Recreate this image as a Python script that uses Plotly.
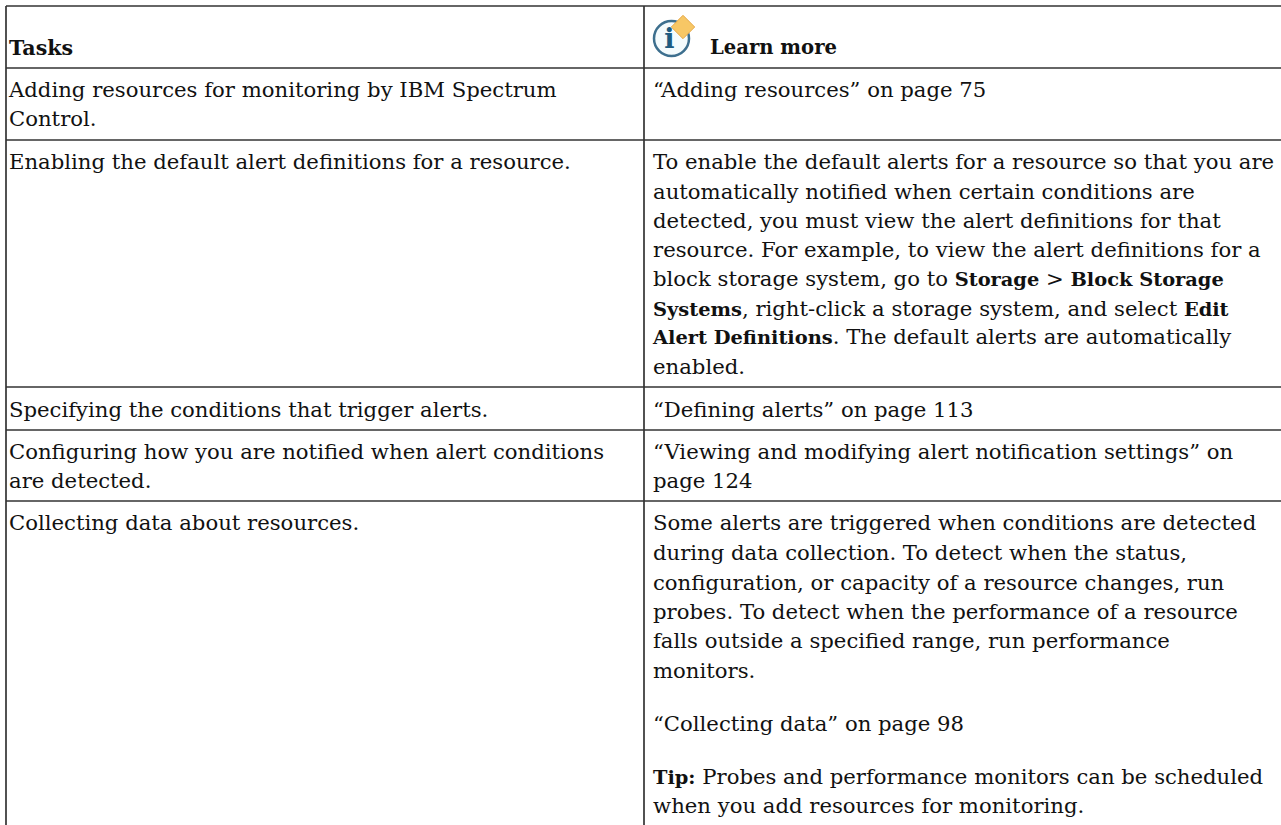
import plotly.graph_objects as go

LEFT_X = 9
RIGHT_X = 653
LEARN_X = 710
FONT_SIZE = 21.2
LEARN_SIZE = 19.6
BOLD_SIZE = 19.4
FONT = "DejaVu Serif"


def bold(s):
    return f'<span style="font-size:{BOLD_SIZE}px;font-weight:bold">{s}</span>'


v_lines_x = [6, 644]
h_lines_y = [6, 68, 140, 387, 430, 501]

icon_ring = (671.5, 38.5)
icon_star = (683, 27)

left_texts = [
    ('<span style="font-size:20.6px;font-weight:bold">Tasks</span>', 48),
    ("Adding resources for monitoring by IBM Spectrum", 90),
    ("Control.", 119),
    ("Enabling the default alert definitions for a resource.", 162),
    ("Specifying the conditions that trigger alerts.", 410),
    ("Configuring how you are notified when alert conditions", 452),
    ("are detected.", 481),
    ("Collecting data about resources.", 523),
]
right_texts = [
    ("“Adding resources” on page 75", 90),
    ("To enable the default alerts for a resource so that you are", 162),
    ("automatically notified when certain conditions are", 192),
    ("detected, you must view the alert definitions for that", 221),
    ("resource. For example, to view the alert definitions for a", 250),
    (f"block storage system, go to {bold('Storage')} &gt; {bold('Block Storage')}", 279),
    (f"{bold('Systems')}, right-click a storage system, and select {bold('Edit')}", 309),
    (f"{bold('Alert Definitions')}. The default alerts are automatically", 337),
    ("enabled.", 367),
    ("“Defining alerts” on page 113", 410),
    ("“Viewing and modifying alert notification settings” on", 452),
    ("page 124", 481),
    ("Some alerts are triggered when conditions are detected", 523),
    ("during data collection. To detect when the status,", 553),
    ("configuration, or capacity of a resource changes, run", 583),
    ("probes. To detect when the performance of a resource", 612),
    ("falls outside a specified range, run performance", 641),
    ("monitors.", 671),
    ("“Collecting data” on page 98", 724),
    (f"{bold('Tip:')} Probes and performance monitors can be scheduled", 777),
    ("when you add resources for monitoring.", 806),
]
learn_text = ("<b>Learn more</b>", 48)

fig = go.Figure()
for x in v_lines_x:
    fig.add_trace(go.Scatter(x=[x, x], y=[h_lines_y[0], 825], mode="lines",
                             line=dict(color="#333", width=1.7), hoverinfo="skip"))
for y in h_lines_y:
    fig.add_trace(go.Scatter(x=[v_lines_x[0], 1281], y=[y, y], mode="lines",
                             line=dict(color="#333", width=1.7), hoverinfo="skip"))
for col_x, rows, size in ((LEFT_X, left_texts, FONT_SIZE), (RIGHT_X, right_texts, FONT_SIZE),
                          (LEARN_X, [learn_text], LEARN_SIZE)):
    fig.add_trace(go.Scatter(x=[col_x] * len(rows), y=[r[1] + 1.5 for r in rows],
                             text=[r[0] for r in rows], mode="text", textposition="middle right",
                             textfont=dict(family=FONT, size=size, color="#111"), hoverinfo="skip"))

# info icon
fig.add_trace(go.Scatter(x=[icon_ring[0]], y=[icon_ring[1]], mode="markers",
                         marker=dict(symbol="circle", size=35, color="#f4fbfd",
                                     line=dict(color="#3d6f8e", width=2.5)), hoverinfo="skip"))
fig.add_trace(go.Scatter(x=[icon_ring[0] - 2], y=[icon_ring[1] + 3], mode="text", text=["<b>i</b>"],
                         textposition="middle center",
                         textfont=dict(family="DejaVu Serif", size=27, color="#1d5b80"), hoverinfo="skip"))
fig.add_trace(go.Scatter(x=[icon_star[0]], y=[icon_star[1]], mode="markers",
                         marker=dict(symbol="diamond", size=18, color="#f7c765",
                                     line=dict(color="#e6a94a", width=1)), hoverinfo="skip"))

fig.update_layout(width=1281, height=825, margin=dict(l=0, r=0, t=0, b=0), showlegend=False,
                  paper_bgcolor="white", plot_bgcolor="white",
                  xaxis=dict(range=[0, 1281], visible=False),
                  yaxis=dict(range=[825, 0], visible=False))
fig.write_html("out.html", config={"displayModeBar": False},
               post_script="document.body.style.margin='0';document.body.style.overflow='hidden';")
